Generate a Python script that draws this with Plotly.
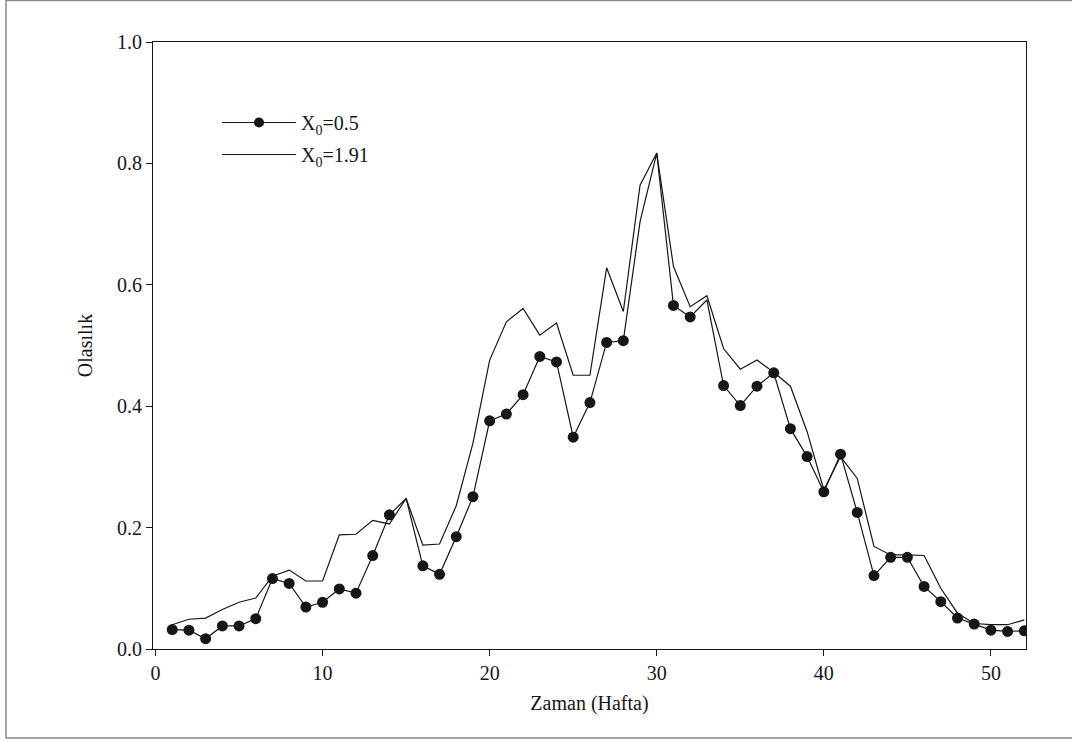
import plotly.graph_objects as go

weeks = list(range(1, 53))

prob_x05 = [0.032, 0.031, 0.017, 0.038, 0.038, 0.050, 0.116, 0.108, 0.069, 0.077,
            0.099, 0.092, 0.154, 0.221, 0.248, 0.137, 0.123, 0.185, 0.251, 0.376,
            0.387, 0.419, 0.482, 0.473, 0.349, 0.406, 0.505, 0.508, 0.704, 0.817,
            0.566, 0.547, 0.575, 0.434, 0.401, 0.433, 0.455, 0.363, 0.317, 0.259,
            0.321, 0.225, 0.121, 0.151, 0.151, 0.103, 0.078, 0.051, 0.041, 0.031,
            0.029, 0.030]

prob_x191 = [0.040, 0.049, 0.051, 0.065, 0.077, 0.084, 0.120, 0.130, 0.112, 0.112,
             0.188, 0.189, 0.212, 0.206, 0.248, 0.171, 0.173, 0.236, 0.339, 0.476,
             0.539, 0.561, 0.517, 0.537, 0.451, 0.451, 0.628, 0.556, 0.764, 0.817,
             0.630, 0.564, 0.582, 0.495, 0.461, 0.476, 0.456, 0.433, 0.358, 0.262,
             0.317, 0.281, 0.169, 0.155, 0.155, 0.154, 0.100, 0.059, 0.042, 0.040,
             0.040, 0.048]

unmarked_weeks = [15, 29, 30, 33]

series_names = ["X<sub>0</sub>=0.5", "X<sub>0</sub>=1.91"]
x_ticks = [0, 10, 20, 30, 40, 50]
y_ticks = [0.0, 0.2, 0.4, 0.6, 0.8, 1.0]

FONT = "Liberation Serif, Times New Roman, serif"
INK = "#161616"

marker_sizes = [0 if w in unmarked_weeks else 11 for w in weeks]

fig = go.Figure()
fig.add_trace(go.Scatter(
    x=weeks, y=prob_x05, name=series_names[0], mode="lines+markers",
    line=dict(color=INK, width=1.2),
    marker=dict(color=INK, size=marker_sizes, opacity=1, line=dict(width=0)),
    legendgroup="a",
))
fig.add_trace(go.Scatter(
    x=weeks, y=prob_x191, name=series_names[1], mode="lines",
    line=dict(color=INK, width=1.2),
    legendgroup="b",
))

axis_common = dict(
    showline=True, linecolor=INK, linewidth=1.2, mirror=True,
    ticks="outside", ticklen=6, tickwidth=1.2, tickcolor=INK,
    showgrid=False, zeroline=False,
    tickfont=dict(family=FONT, size=20, color=INK),
)

fig.update_layout(
    width=1072, height=742,
    margin=dict(l=153, r=46, t=42, b=93),
    paper_bgcolor="white", plot_bgcolor="white",
    font=dict(family=FONT, size=20, color=INK),
    xaxis=dict(range=[-0.15, 52.1], tickvals=x_ticks,
               title=dict(text="Zaman (Hafta)", standoff=12,
                          font=dict(family=FONT, size=20, color=INK)),
               **axis_common),
    yaxis=dict(range=[0, 1], tickvals=y_ticks, tickformat=".1f",
               title=dict(text="Olasılık", standoff=18,
                          font=dict(family=FONT, size=20, color=INK)),
               **axis_common),
    legend=dict(x=(217 - 153) / 873, y=(649 - 103) / 607, xanchor="left", yanchor="top",
                bgcolor="rgba(0,0,0,0)", font=dict(family=FONT, size=20, color=INK),
                itemwidth=74, tracegroupgap=3),
    showlegend=True,
    shapes=[dict(type="rect", xref="paper", yref="paper",
                 x0=(6 - 153) / 873, x1=(1076 - 153) / 873,
                 y0=(649 - 738) / 607, y1=(649 - 0.5) / 607,
                 line=dict(color="#888888", width=1.5), fillcolor="rgba(0,0,0,0)",
                 layer="below")],
)

fig.write_html("out.html", config={"displayModeBar": False},
               post_script="document.body.style.margin='0';")
